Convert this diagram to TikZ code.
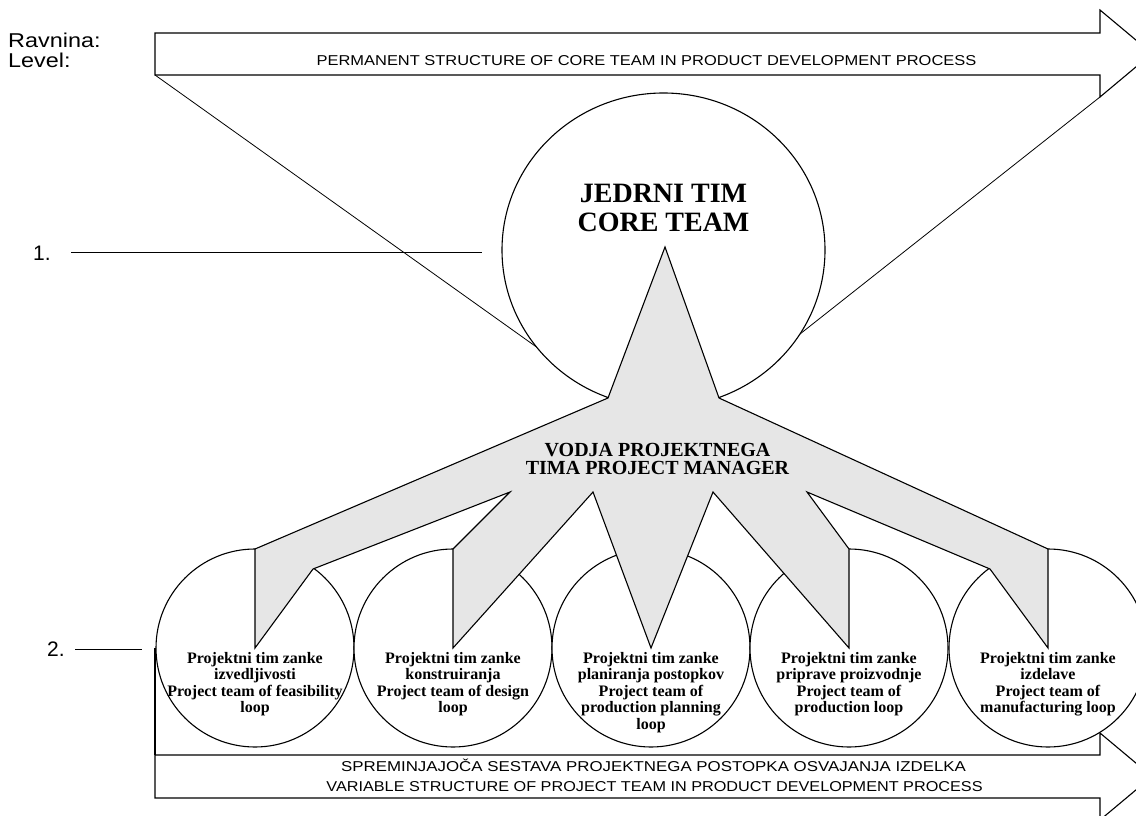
\documentclass[tikz,border=0pt]{standalone}
\usepackage{fontspec}
\setmainfont{Liberation Serif}
\newfontfamily\arialfont{Liberation Sans}
\usetikzlibrary{shapes.geometric}
\definecolor{starfill}{HTML}{E6E6E6}
% wide sans-serif label: size, horizontal stretch, text
\newcommand\widesans[3]{{\arialfont\fontsize{#1}{#1}\selectfont\scalebox{#2}[1]{#3}}}

\begin{document}
\begin{tikzpicture}[x=1pt,y=-1pt,
  outline/.style={draw=black, line width=1.1pt, line join=miter},
  thinline/.style={draw=black, line width=0.8pt},
  loopteam/.style={circle, outline, fill=white, minimum size=198pt, inner sep=0pt},
  looplabel/.style={anchor=north, align=center, inner sep=0pt,
    font=\bfseries\fontsize{16}{16.5}\selectfont},
  sanslabel/.style={inner sep=0pt}]
\useasboundingbox (0,0) rectangle (1136,816);
\clip (0,0) rectangle (1136,816);

% level labels
\node[sanslabel, anchor=base west] (ravnina) at (8,48) {\widesans{20}{1.17}{Ravnina:}};
\node[sanslabel, anchor=base west] (level) at (8,67) {\widesans{20}{1.17}{Level:}};
\node[sanslabel, anchor=base west] (lvlone) at (33,260) {\widesans{21}{1}{1.}};
\node[sanslabel, anchor=base west] (lvltwo) at (47,656) {\widesans{21}{1}{2.}};
\coordinate (lvlonea) at (71,252);
\coordinate (lvloneb) at (482,252);
\coordinate (lvltwoa) at (75,649);
\coordinate (lvltwob) at (142,649);
\draw[thinline] (lvlonea) -- (lvloneb);
\draw[thinline] (lvltwoa) -- (lvltwob);

% permanent structure arrow
\coordinate (ta1) at (155,33);
\coordinate (ta2) at (1100,33);
\coordinate (ta3) at (1100,10);
\coordinate (tatip) at (1152,53.5);
\coordinate (ta5) at (1100,97);
\coordinate (ta6) at (1100,75);
\coordinate (ta7) at (155,75);
\draw[outline] (ta1) -- (ta2) -- (ta3) -- (tatip) -- (ta5) -- (ta6) -- (ta7) -- cycle;
\node[sanslabel, anchor=base] (permtext) at (646.5,66)
  {\widesans{14.3}{1.15}{PERMANENT STRUCTURE OF CORE TEAM IN PRODUCT DEVELOPMENT PROCESS}};

% star points
\coordinate (T) at (665,247);
\coordinate (R1) at (719,398);
\coordinate (V5t) at (1048,549);
\coordinate (V5b) at (1048,648);
\coordinate (P5) at (990,569);
\coordinate (J45) at (807,492);
\coordinate (V4t) at (849,549);
\coordinate (V4b) at (849,648);
\coordinate (J4m) at (713,492);
\coordinate (M) at (651,648);
\coordinate (Jm2) at (593,492);
\coordinate (V2b) at (453,648);
\coordinate (V2t) at (453,549);
\coordinate (J21) at (510,492);
\coordinate (P1) at (313,569);
\coordinate (V1b) at (255,648);
\coordinate (V1t) at (255,549);
\coordinate (L1) at (608,398);

% funnel lines from the arrow to the core team
\draw[thinline] (ta7) -- (L1);
\draw[thinline] (ta5) -- (R1);

% core team
\node[ellipse, outline, fill=white, minimum width=323pt, minimum height=314pt, inner sep=0pt]
  (core) at (663.5,250) {};

% loop teams
\node[loopteam] (c1) at (255,648) {};
\node[loopteam] (c2) at (453,648) {};
\node[loopteam] (c3) at (651,648) {};
\node[loopteam] (c4) at (849,648) {};
\node[loopteam] (c5) at (1048,648) {};

% variable structure arrow
\coordinate (ba1) at (155,755);
\coordinate (ba2) at (1100,755);
\coordinate (ba3) at (1100,733);
\coordinate (batip) at (1152,776.5);
\coordinate (ba5) at (1100,820);
\coordinate (ba6) at (1100,798);
\coordinate (ba7) at (155,798);
\coordinate (c1west) at (155,648);
\draw[outline] (ba1) -- (ba2) -- (ba3) -- (batip) -- (ba5) -- (ba6) -- (ba7) -- cycle;
\draw[outline] (ba1) -- (c1west);
\node[sanslabel, anchor=base] (vartexta) at (653.5,771)
  {\widesans{14.3}{1.18}{SPREMINJAJOČA SESTAVA PROJEKTNEGA POSTOPKA OSVAJANJA IZDELKA}};
\node[sanslabel, anchor=base] (vartextb) at (654.5,791)
  {\widesans{14.3}{1.135}{VARIABLE STRUCTURE OF PROJECT TEAM IN PRODUCT DEVELOPMENT PROCESS}};

% project manager star
\filldraw[outline, fill=starfill]
  (T) -- (R1) -- (V5t) -- (V5b) -- (P5) -- (J45) -- (V4t) -- (V4b) -- (J4m) -- (M)
  -- (Jm2) -- (V2b) -- (V2t) -- (J21) -- (P1) -- (V1b) -- (V1t) -- (L1) -- cycle;

% texts
\node[anchor=north, align=center, inner sep=0pt, font=\bfseries\fontsize{28}{29}\selectfont]
  (coretext) at (663.5,183.5) {JEDRNI TIM\\CORE TEAM};
\node[anchor=north, align=center, inner sep=0pt, font=\bfseries\fontsize{20}{18.3}\selectfont]
  (pmtext) at (657.5,443) {VODJA PROJEKTNEGA\\TIMA PROJECT MANAGER};

\node[looplabel] (t1) at (255,652) {Projektni tim zanke\\izvedljivosti\\Project team of feasibility\\loop};
\node[looplabel] (t2) at (453,652) {Projektni tim zanke\\konstruiranja\\Project team of design\\loop};
\node[looplabel] (t3) at (651,652) {Projektni tim zanke\\planiranja postopkov\\Project team of\\production planning\\loop};
\node[looplabel] (t4) at (849,652) {Projektni tim zanke\\priprave proizvodnje\\Project team of\\production loop};
\node[looplabel] (t5) at (1048,652) {Projektni tim zanke\\izdelave\\Project team of\\manufacturing loop};
\end{tikzpicture}
\end{document}
